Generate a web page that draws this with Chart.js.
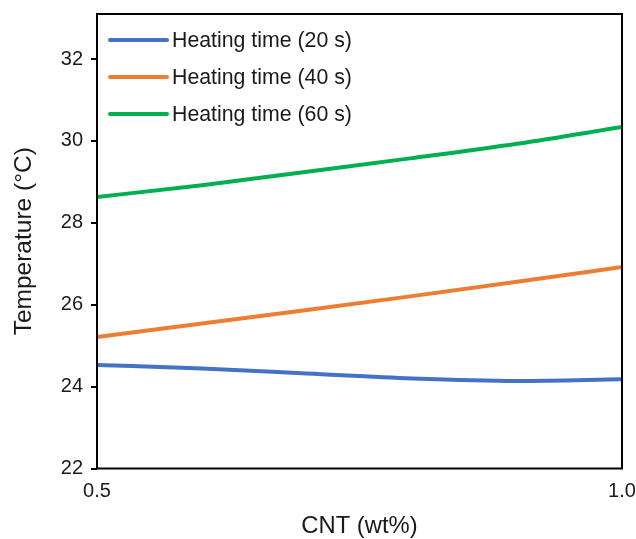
<!DOCTYPE html>
<html>
<head>
<meta charset="utf-8">
<script src="https://cdn.jsdelivr.net/npm/chart.js@4/dist/chart.umd.min.js"></script>
<style>
html,body{margin:0;padding:0;background:#fff;}
#wrap{width:636px;height:539px;}
</style>
</head>
<body>
<div id="wrap"><canvas id="c" width="636" height="539"></canvas></div>
<script>
const cntValues = [0.5, 0.6, 0.7, 0.8, 0.9, 1.0];
const temp20s = [24.53, 24.44, 24.32, 24.20, 24.14, 24.18];
const temp40s = [25.21, 25.54, 25.87, 26.21, 26.56, 26.92];
const temp60s = [28.63, 28.92, 29.25, 29.58, 29.93, 30.34];
const seriesLabels = ['Heating time (20 s)', 'Heating time (40 s)', 'Heating time (60 s)'];
const seriesColors = ['#4472C4', '#ED7D31', '#00B050'];
const yTicks = [22, 24, 26, 28, 30, 32];
const xTicks = [0.5, 1.0];
const xTickLabels = ['0.5', '1.0'];

const FONT = "'Liberation Sans', Arial, sans-serif";

function pts(vals){ return cntValues.map((x,i)=>({x:x, y:vals[i]})); }
const seriesData = [temp20s, temp40s, temp60s];

const framePlugin = {
  id: 'frame',
  afterDatasetsDraw(chart){
    const a = chart.chartArea, ctx = chart.ctx;
    ctx.save();
    ctx.strokeStyle = '#000';
    ctx.lineWidth = 2;
    ctx.strokeRect(a.left, a.top, a.right - a.left, a.bottom - a.top);
    ctx.restore();
  }
};

const legendPlugin = {
  id: 'insideLegend',
  afterDatasetsDraw(chart){
    const a = chart.chartArea, ctx = chart.ctx;
    ctx.save();
    ctx.font = "21.3px " + FONT;
    ctx.textBaseline = 'middle';
    ctx.textAlign = 'left';
    chart.data.datasets.forEach((ds, i) => {
      const y = a.top + 26 + i * 37;
      ctx.strokeStyle = ds.borderColor;
      ctx.lineWidth = 4;
      ctx.lineCap = 'round';
      ctx.beginPath();
      ctx.moveTo(a.left + 13, y);
      ctx.lineTo(a.left + 70, y);
      ctx.stroke();
      ctx.fillStyle = '#1a1a1a';
      ctx.fillText(ds.label, a.left + 75, y + 1);
    });
    ctx.restore();
  }
};

new Chart(document.getElementById('c'), {
  type: 'line',
  data: {
    datasets: seriesData.map((vals, i) => ({
      label: seriesLabels[i],
      data: pts(vals),
      borderColor: seriesColors[i],
      backgroundColor: seriesColors[i],
      borderWidth: 4,
      pointRadius: 0,
      tension: 0.4,
      cubicInterpolationMode: 'monotone',
      fill: false
    }))
  },
  options: {
    responsive: false,
    animation: false,
    devicePixelRatio: 1,
    layout: { autoPadding: false, padding: { left: 0, right: 14, top: 14, bottom: 0 } },
    plugins: { legend: { display: false }, tooltip: { enabled: false } },
    scales: {
      x: {
        type: 'linear',
        min: 0.5, max: 1.0,
        afterBuildTicks(scale){ scale.ticks = xTicks.map(v => ({value: v})); },
        afterFit(scale){ scale.height = 70.5; scale.paddingLeft = 0; scale.paddingRight = 0; },
        ticks: {
          callback: (v) => { const i = xTicks.indexOf(v); return i >= 0 ? xTickLabels[i] : ''; },
          font: { size: 20, family: FONT }, color: '#1a1a1a', padding: 11, maxRotation: 0, autoSkip: false
        },
        grid: { display: false, drawTicks: false },
        border: { display: false },
        title: { display: true, text: 'CNT (wt%)', font: { size: 23.8, family: FONT }, color: '#1a1a1a', padding: { top: 0, bottom: -2 } }
      },
      y: {
        type: 'linear',
        min: 22, max: 33.1,
        afterBuildTicks(scale){ scale.ticks = yTicks.map(v => ({value: v})); },
        afterFit(scale){ scale.width = 97; scale.paddingTop = 0; scale.paddingBottom = 0; },
        ticks: { font: { size: 20, family: FONT }, color: '#1a1a1a', padding: 8 },
        grid: { display: true, drawOnChartArea: false, drawTicks: true, tickLength: 6, color: '#000', lineWidth: 2 },
        border: { display: false },
        title: { display: true, text: 'Temperature (°C)', font: { size: 24.5, family: FONT }, color: '#1a1a1a', padding: { top: 10, bottom: 0 } }
      }
    }
  },
  plugins: [framePlugin, legendPlugin]
});
</script>
</body>
</html>
